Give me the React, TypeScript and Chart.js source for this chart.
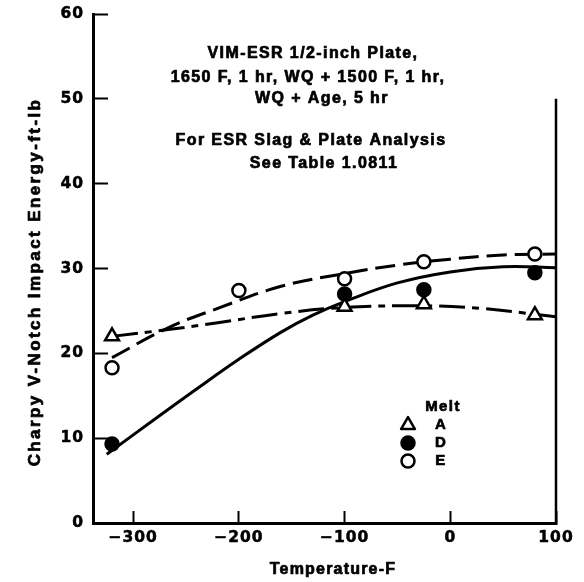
import React, { useEffect, useRef } from "react";
import { Chart, registerables } from "chart.js";

Chart.register(...registerables);

// ---- data ----
const meltNames = ["A", "D", "E"];
const legendTitle = "Melt";

const tempA = [-320, -100, -25, 80];
const energyA = [22, 25.5, 25.8, 24.5];
const tempD = [-320, -100, -25, 80];
const energyD = [9.3, 27, 27.5, 29.5];
const tempE = [-320, -200, -100, -25, 80];
const energyE = [18.3, 27.4, 28.8, 30.8, 31.7];

const curveTempA = [-320, -267, -220, -160, -100, -25, 30, 80, 100];
const curveEnergyA = [22, 22.8, 23.6, 24.7, 25.4, 25.6, 25.3, 24.6, 24.3];
const curveTempD = [-325, -280, -240, -200, -160, -130, -100, -50, 0, 50, 100];
const curveEnergyD = [8.1, 12.2, 15.8, 19.3, 22.5, 24.5, 26.1, 28.3, 29.6, 30.2, 30.1];
const curveTempE = [-320, -267, -220, -160, -100, -50, 0, 50, 100];
const curveEnergyE = [19.5, 23.0, 25.3, 27.9, 29.4, 30.4, 31.1, 31.6, 31.7];

const xTicks = [-300, -200, -100, 0, 100];
const yTicks = [0, 10, 20, 30, 40, 50, 60];
const xMin = -338;
const xMax = 100;
const yMin = 0;
const yMax = 60;

const xTitle = "Temperature-F";
const yTitle = "Charpy V-Notch Impact Energy-ft-lb";
const noteLines = [
  "VIM-ESR 1/2-inch Plate,",
  "1650 F, 1 hr, WQ + 1500 F, 1 hr,",
  "WQ + Age, 5 hr",
  "For ESR Slag & Plate Analysis",
  "See Table 1.0811",
];

// ---- styling / layout constants ----
const W = 584;
const H = 582;
const notePos = [
  [313, 54],
  [308, 78],
  [322, 99],
  [311, 141],
  [324, 164],
];
const legendPos = { symX: 408, textX: 441, titleX: 443, titleY: 407, rows: [425, 443, 461] };
const rightFrameFrom = 50;

const pts = (xs: number[], ys: number[]) => xs.map((x, i) => ({ x, y: ys[i] }));
const fmtTick = (v: number) => (v < 0 ? "\u2212" + Math.abs(v) : String(v));

function drawMarker(ctx: CanvasRenderingContext2D, kind: string, x: number, y: number) {
  ctx.save();
  ctx.lineWidth = 2.5;
  ctx.strokeStyle = "#000";
  ctx.beginPath();
  if (kind === "triangle") {
    const r = 8;
    for (let k = 0; k < 3; k++) {
      const a = -Math.PI / 2 + (k * 2 * Math.PI) / 3;
      const px = x + Math.cos(a) * r;
      const py = y + Math.sin(a) * r;
      if (k === 0) ctx.moveTo(px, py);
      else ctx.lineTo(px, py);
    }
    ctx.closePath();
    ctx.fillStyle = "#fff";
  } else {
    ctx.arc(x, y, 6.5, 0, Math.PI * 2);
    ctx.fillStyle = kind === "filled" ? "#000" : "#fff";
  }
  ctx.fill();
  ctx.stroke();
  ctx.restore();
}

function boldText(ctx: CanvasRenderingContext2D, t: string, x: number, y: number) {
  ctx.fillText(t, x, y);
  ctx.strokeText(t, x, y);
}

const decorPlugin = {
  id: "decor",
  beforeDraw(chart: any) {
    (chart.ctx as any).letterSpacing = "1px";
  },
  afterDraw(chart: any) {
    const ctx: CanvasRenderingContext2D = chart.ctx;
    const { chartArea, scales } = chart;
    // right frame line
    ctx.save();
    ctx.strokeStyle = "#000";
    ctx.lineWidth = 2.5;
    ctx.beginPath();
    ctx.moveTo(chartArea.right, scales.y.getPixelForValue(rightFrameFrom));
    ctx.lineTo(chartArea.right, chartArea.bottom + 1);
    ctx.stroke();
    ctx.restore();

    ctx.save();
    ctx.fillStyle = "#000";
    ctx.strokeStyle = "#000";
    ctx.lineWidth = 0.7;
    ctx.lineJoin = "round";
    ctx.textAlign = "center";
    ctx.textBaseline = "middle";

    // note text
    (ctx as any).letterSpacing = "1.4px";
    ctx.font = "bold 16px 'Liberation Sans', Arial, sans-serif";
    noteLines.forEach((t, i) => boldText(ctx, t, notePos[i][0], notePos[i][1]));

    // legend
    ctx.font = "bold 15px 'Liberation Sans', Arial, sans-serif";
    boldText(ctx, legendTitle, legendPos.titleX, legendPos.titleY);
    const kinds = ["triangle", "filled", "open"];
    meltNames.forEach((m, i) => {
      boldText(ctx, m, legendPos.textX, legendPos.rows[i]);
      drawMarker(ctx, kinds[i], legendPos.symX, legendPos.rows[i]);
    });

    // axis titles
    (ctx as any).letterSpacing = "1.2px";
    ctx.font = "bold 16px 'Liberation Sans', Arial, sans-serif";
    boldText(ctx, xTitle, 333, 570);
    ctx.translate(35, 282);
    ctx.rotate(-Math.PI / 2);
    (ctx as any).letterSpacing = "2.4px";
    ctx.font = "bold 17px 'Liberation Sans', Arial, sans-serif";
    boldText(ctx, yTitle, 0, 0);
    ctx.restore();
  },
};

export default function App() {
  const ref = useRef<HTMLCanvasElement | null>(null);

  useEffect(() => {
    if (!ref.current) return;
    const tickFont = { family: "'DejaVu Sans', sans-serif", size: 15.5, weight: "bold" as const };
    const lineDs = (label: string, xs: number[], ys: number[], dash: number[]) => ({
      type: "scatter" as const,
      label,
      data: pts(xs, ys),
      showLine: true,
      borderColor: "#000",
      borderWidth: 3,
      borderDash: dash,
      pointRadius: 0,
      fill: false,
      tension: 0.4,
      order: 2,
    });
    const pointDs = (label: string, xs: number[], ys: number[], style: string, fillColor: string, r: number) => ({
      type: "scatter" as const,
      label,
      data: pts(xs, ys),
      showLine: false,
      pointStyle: style,
      pointRadius: r,
      pointBackgroundColor: fillColor,
      pointBorderColor: "#000",
      pointBorderWidth: 2.5,
      order: 1,
    });

    const chart = new Chart(ref.current, {
      type: "scatter",
      data: {
        datasets: [
          lineDs("A fit", curveTempA, curveEnergyA, [26, 7, 7, 7]),
          lineDs("D fit", curveTempD, curveEnergyD, []),
          lineDs("E fit", curveTempE, curveEnergyE, [20, 8]),
          pointDs("A", tempA, energyA, "triangle", "#fff", 8),
          pointDs("D", tempD, energyD, "circle", "#000", 6.5),
          pointDs("E", tempE, energyE, "circle", "#fff", 6.5),
        ] as any,
      },
      options: {
        responsive: false,
        animation: false,
        devicePixelRatio: 1,
        layout: { padding: { left: 0, top: 14, right: 28, bottom: 0 } },
        plugins: { legend: { display: false }, tooltip: { enabled: false }, title: { display: false } },
        scales: {
          x: {
            type: "linear",
            min: xMin,
            max: xMax,
            afterBuildTicks: (s: any) => {
              s.ticks = xTicks.map((v) => ({ value: v }));
            },
            afterFit: (s: any) => {
              s.height = 59;
              s.paddingLeft = 0;
              s.paddingRight = 0;
            },
            grid: { drawOnChartArea: false, drawTicks: true, tickLength: -12, tickWidth: 2, tickColor: "#000" },
            border: { display: true, color: "#000", width: 3 },
            ticks: {
              color: "#000",
              font: tickFont,
              padding: 18,
              maxRotation: 0,
              autoSkip: false,
              textStrokeColor: "#000",
              textStrokeWidth: 0.5,
              callback: (v: any) => fmtTick(Number(v)),
            },
          },
          y: {
            type: "linear",
            min: yMin,
            max: yMax,
            afterBuildTicks: (s: any) => {
              s.ticks = yTicks.map((v) => ({ value: v }));
            },
            afterFit: (s: any) => {
              s.width = 93;
              s.paddingTop = 0;
              s.paddingBottom = 0;
            },
            grid: { drawOnChartArea: false, drawTicks: true, tickLength: -15, tickWidth: 2, tickColor: "#000" },
            border: { display: true, color: "#000", width: 3 },
            ticks: {
              color: "#000",
              font: tickFont,
              padding: 24,
              autoSkip: false,
              textStrokeColor: "#000",
              textStrokeWidth: 0.5,
              callback: (v: any) => String(v),
            },
          },
        },
      },
      plugins: [decorPlugin],
    } as any);
    return () => chart.destroy();
  }, []);

  return (
    <div style={{ position: "absolute", left: 0, top: 0, width: W, height: H, background: "#fff" }}>
      <canvas ref={ref} width={W} height={H} style={{ display: "block", width: W, height: H }} />
    </div>
  );
}
